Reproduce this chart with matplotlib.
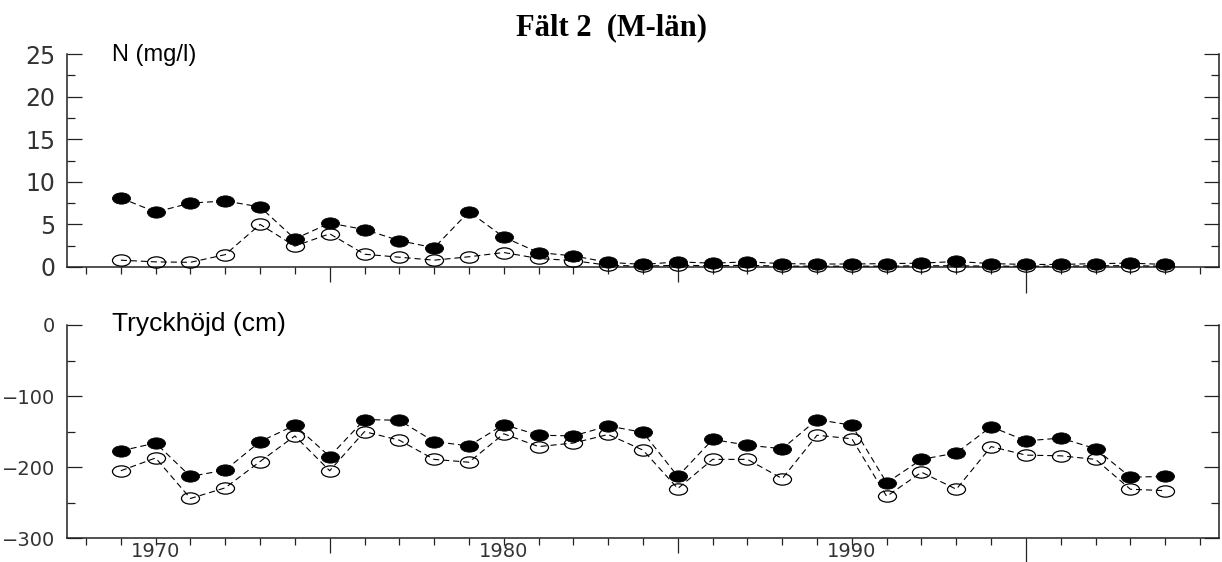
import numpy as np
import matplotlib
matplotlib.use("Agg")
import matplotlib.pyplot as plt
from matplotlib.path import Path
from matplotlib.transforms import Affine2D
from matplotlib.ticker import MultipleLocator, FixedLocator

# ---------------- data ----------------
years = list(range(1969, 2000))

n_filled = [8.1, 6.45, 7.5, 7.75, 7.05, 3.3, 5.15, 4.4, 3.1, 2.25,
            6.5, 3.5, 1.7, 1.3, 0.55, 0.3, 0.6, 0.45, 0.6, 0.4,
            0.35, 0.35, 0.4, 0.45, 0.65, 0.4, 0.3, 0.3, 0.4, 0.45, 0.3]
n_open = [0.8, 0.6, 0.55, 1.45, 5.0, 2.45, 3.9, 1.5, 1.15, 0.8,
          1.2, 1.7, 1.0, 0.75, 0.2, 0.1, 0.2, 0.15, 0.2, 0.1,
          0.1, 0.1, 0.1, 0.15, 0.15, 0.1, 0.1, 0.1, 0.15, 0.15, 0.1]

t_filled = [-177, -166, -213, -204, -164, -141, -185, -133, -134, -164,
            -170, -140, -155, -156, -142, -151, -213, -161, -169, -174,
            -133, -141, -222, -189, -180, -143, -163, -159, -174, -214, -213]
t_open = [-205, -187, -244, -229, -192, -156, -205, -150, -162, -189,
          -193, -153, -171, -166, -154, -176, -230, -189, -189, -216,
          -155, -160, -241, -207, -231, -171, -183, -184, -189, -231, -233]

title = "Fält 2  (M-län)"
label_top = "N (mg/l)"
label_bottom = "Tryckhöjd (cm)"
x_label_years = [1970, 1980, 1990]
long_tick_years = [1975, 1985, 1995]

# ---------------- figure ----------------
W, H = 1222, 562
fig = plt.figure(figsize=(W / 100, H / 100), dpi=100)

def frac_box(left, top, right, bottom):
    return [left / W, 1 - bottom / H, (right - left) / W, (bottom - top) / H]

ax1 = fig.add_axes(frac_box(67, 54, 1219, 267))
ax2 = fig.add_axes(frac_box(67, 325, 1219, 538.3))

ellipse = Path.unit_circle().transformed(Affine2D().scale(1.6, 1.0))

spine_col = "#222222"
lab_col = "#333333"

def style(ax, yl, ymaj, ymin, label_size):
    ax.set_xlim(1967.454, 2000.546)
    ax.set_ylim(*yl)
    ax.spines["top"].set_visible(False)
    for s in ["left", "right", "bottom"]:
        ax.spines[s].set_linewidth(1.1)
        ax.spines[s].set_color(spine_col)
    ax.yaxis.set_major_locator(MultipleLocator(ymaj))
    ax.yaxis.set_minor_locator(MultipleLocator(ymin))
    ax.tick_params(axis="y", which="major", direction="in", length=11,
                   width=0.9, color=spine_col, left=True, right=True,
                   labelsize=label_size, labelcolor=lab_col, pad=8.5)
    ax.tick_params(axis="y", which="minor", direction="in", length=6,
                   width=0.9, color=spine_col, left=True, right=True)
    ax.xaxis.set_major_locator(FixedLocator(long_tick_years))
    ax.xaxis.set_minor_locator(MultipleLocator(1))
    ax.tick_params(axis="x", which="major", direction="out", length=11,
                   width=0.9, color=spine_col, labelbottom=False)
    ax.tick_params(axis="x", which="minor", direction="out", length=5,
                   width=0.9, color=spine_col)
    for lab in ax.get_yticklabels():
        lab.set_family("DejaVu Sans")

def draw(ax, filled, opened):
    ax.plot(years, opened, linestyle=(0, (5.5, 3.5)), linewidth=0.8,
            color="black", marker=ellipse, markersize=13,
            markerfacecolor="none", markeredgecolor="black",
            markeredgewidth=0.9, clip_on=False, zorder=3)
    ax.plot(years, filled, linestyle=(0, (5.5, 3.5)), linewidth=0.8,
            color="black", marker=ellipse, markersize=13,
            markerfacecolor="black", markeredgecolor="black",
            markeredgewidth=0.6, clip_on=False, zorder=4)

style(ax1, (0, 25), 5, 2.5, 17)
style(ax2, (-300, 0), 100, 50, 14)
draw(ax1, n_filled, n_open)
draw(ax2, t_filled, t_open)

# labelled years on the bottom panel
sec = ax2.secondary_xaxis("bottom")
sec.set_xticks(x_label_years)
sec.set_xticklabels([str(y) for y in x_label_years])
sec.tick_params(length=0, labelsize=14, labelcolor=lab_col, pad=3)
sec.spines["bottom"].set_visible(False)

# longer 1995 tick
for ax in (ax1, ax2):
    tks = ax.xaxis.get_major_ticks()
    tks[2].tick1line.set_markersize(19)

fig.text(612 / W, 1 - 35 / H, title, ha="center", va="baseline",
         family="Liberation Serif", fontweight="bold", fontsize=22)
fig.text(111.5 / W, 1 - 60.5 / H, label_top, ha="left", va="baseline",
         family="Liberation Sans", fontsize=17)
fig.text(111.5 / W, 1 - 331.5 / H, label_bottom, ha="left", va="baseline",
         family="Liberation Sans", fontsize=19)

fig.savefig("out.png", dpi=100)
